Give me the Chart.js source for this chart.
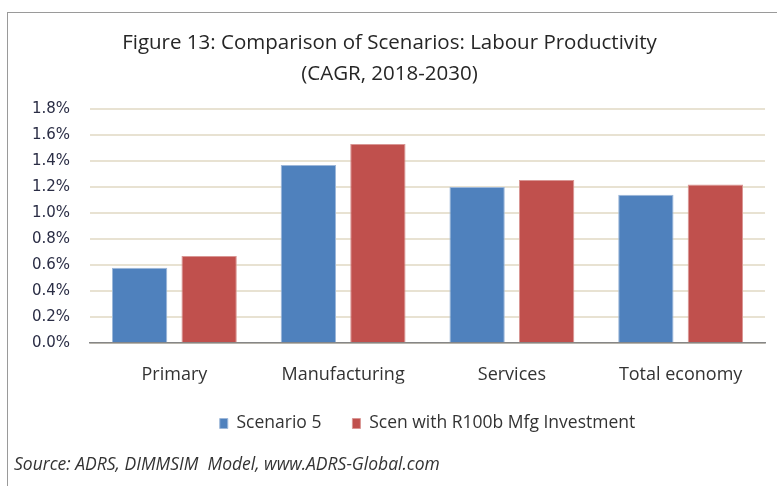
<!DOCTYPE html>
<html>
<head>
<meta charset="utf-8">
<script src="https://cdn.jsdelivr.net/npm/chart.js@4/dist/chart.umd.min.js"></script>
<style>
  html, body { margin: 0; padding: 0; background: #fff; overflow: hidden; }
  canvas { display: block; }
</style>
</head>
<body>
<canvas id="lab_prod" width="777" height="486"></canvas>
<script>
// Données
const categories = ['Primary', 'Manufacturing', 'Services', 'Total economy'];
const scenario5 = [0.58, 1.37, 1.20, 1.14];
const scenR100b = [0.67, 1.53, 1.255, 1.22];
const seriesNames = ['Scenario 5', 'Scen with R100b Mfg Investment'];
const titleLines = ['Figure 13: Comparison of Scenarios: Labour Productivity', '(CAGR, 2018-2030)'];
const sourceText = 'Source: ADRS, DIMMSIM  Model, www.ADRS-Global.com';

// cadre gris autour du graphique
const framePlugin = {
    id: 'frame',
    beforeDraw(chart) {
        const ctx = chart.ctx;
        ctx.save();
        ctx.fillStyle = '#fff';
        ctx.fillRect(0, 0, chart.width, chart.height);
        ctx.strokeStyle = '#9a9a9a';
        ctx.lineWidth = 1;
        ctx.strokeRect(7.5, 12.5, 900, 600);
        ctx.restore();
    }
};

const ctx = document.getElementById('lab_prod').getContext('2d');
new Chart(ctx, {
    type: 'bar',
    data: {
        labels: categories,
        datasets: [{
            label: seriesNames[0],
            data: scenario5,
            backgroundColor: '#4f81bd',
            borderColor: '#9db7d9',
            borderWidth: 1,
            categoryPercentage: 0.824,
            barPercentage: 0.796
        }, {
            label: seriesNames[1],
            data: scenR100b,
            backgroundColor: '#c0504d',
            borderColor: '#d99694',
            borderWidth: 1,
            categoryPercentage: 0.824,
            barPercentage: 0.796
        }]
    },
    options: {
        responsive: false,
        animation: false,
        layout: { padding: { left: 14, right: 12, top: 0, bottom: 0 } },
        plugins: {
            title: {
                display: true,
                text: titleLines,
                color: '#262626',
                font: { family: 'Open Sans', size: 20.5, weight: 'normal', lineHeight: 1.5 },
                padding: { top: 28, bottom: 19.5 }
            },
            subtitle: {
                display: true,
                position: 'bottom',
                align: 'start',
                text: sourceText,
                color: '#333333',
                font: { family: 'Open Sans', size: 17.5, style: 'italic', lineHeight: 1.2 },
                padding: { top: 12.25, bottom: 10.5 }
            },
            legend: {
                position: 'bottom',
                fullSize: false,
                labels: {
                    color: '#333333',
                    font: { family: 'Open Sans', size: 17.5 },
                    boxWidth: 8,
                    boxHeight: 10,
                    padding: 31
                }
            },
            tooltip: { enabled: false }
        },
        scales: {
            x: {
                grid: { display: false, drawTicks: false },
                border: { color: '#868686', width: 1.5 },
                ticks: {
                    color: '#333333',
                    font: { family: 'Open Sans', size: 18 },
                    padding: 20.5
                },
                afterFit(scale) { scale.height -= 22; }
            },
            y: {
                min: 0,
                max: 1.8,
                grid: { color: '#e8e2d2', lineWidth: 2, drawTicks: false },
                border: { display: false },
                ticks: {
                    stepSize: 0.2,
                    color: '#2a2d45',
                    font: { family: 'DejaVu Sans', size: 15 },
                    padding: 20,
                    callback: (v) => v.toFixed(1) + '%'
                },
                afterFit(scale) { scale.width = 76; }
            }
        }
    },
    plugins: [framePlugin]
});
</script>
</body>
</html>
